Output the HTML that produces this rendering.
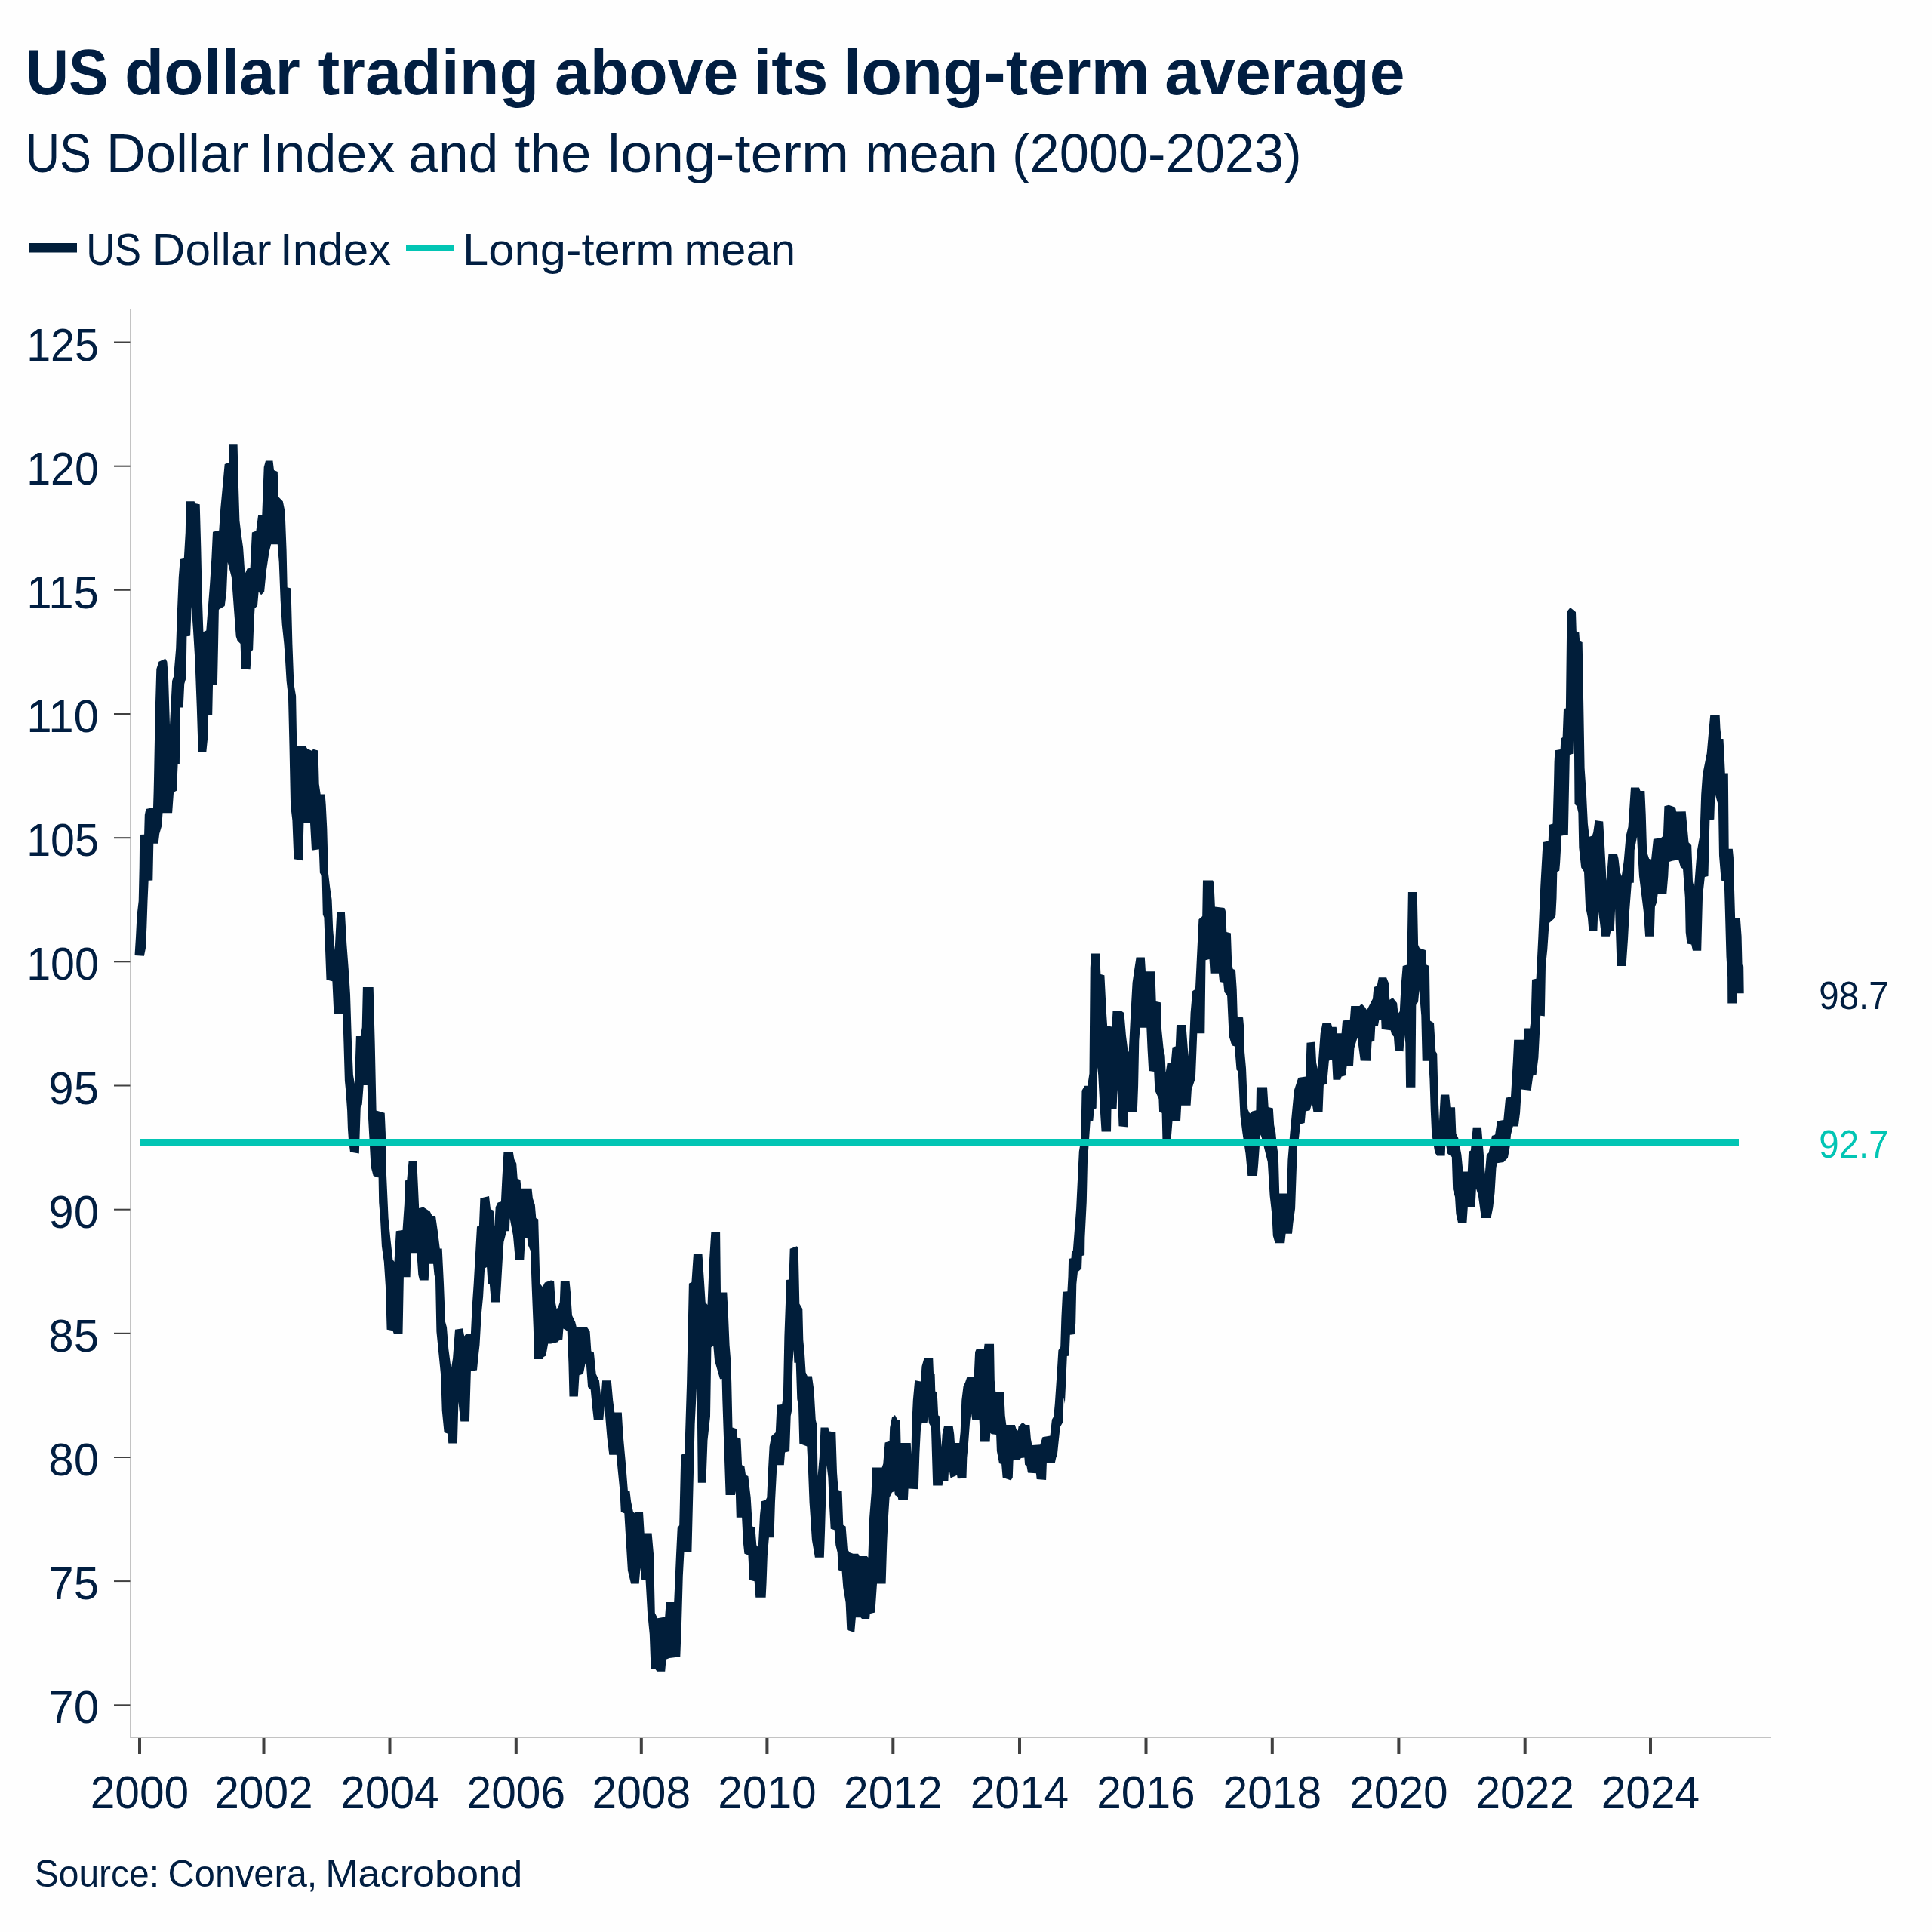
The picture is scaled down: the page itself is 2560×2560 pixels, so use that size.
<!DOCTYPE html>
<html><head><meta charset="utf-8">
<style>
html,body{margin:0;padding:0;background:#fefefe;}
body{width:2560px;height:2560px;overflow:hidden;}
svg{display:block;}
text{font-family:"Liberation Sans", sans-serif;fill:#011e41;}
</style></head><body>
<svg width="2560" height="2560" viewBox="0 0 2560 2560">
<rect x="0" y="0" width="2560" height="2560" fill="#fefefe"/>
<text x="34.29" y="125.20000000000002" font-size="85.25" textLength="109.18" lengthAdjust="spacingAndGlyphs" font-weight="bold">US</text>
<text x="165.09" y="125.20000000000002" font-size="85.25" textLength="232.72" lengthAdjust="spacingAndGlyphs" font-weight="bold">dollar</text>
<text x="421.49" y="125.20000000000002" font-size="85.25" textLength="292.78" lengthAdjust="spacingAndGlyphs" font-weight="bold">trading</text>
<text x="735.04" y="125.20000000000002" font-size="85.25" textLength="243.31" lengthAdjust="spacingAndGlyphs" font-weight="bold">above</text>
<text x="998.64" y="125.20000000000002" font-size="85.25" textLength="98.84" lengthAdjust="spacingAndGlyphs" font-weight="bold">its</text>
<text x="1116.78" y="125.20000000000002" font-size="85.25" textLength="407.38" lengthAdjust="spacingAndGlyphs" font-weight="bold">long-term</text>
<text x="1543.24" y="125.20000000000002" font-size="85.25" textLength="318.33" lengthAdjust="spacingAndGlyphs" font-weight="bold">average</text>
<text x="33.66" y="227.80000000000007" font-size="72.07" textLength="87.46" lengthAdjust="spacingAndGlyphs">US</text>
<text x="140.79" y="227.80000000000007" font-size="72.07" textLength="188.53" lengthAdjust="spacingAndGlyphs">Dollar</text>
<text x="343.36" y="227.80000000000007" font-size="72.07" textLength="179.86" lengthAdjust="spacingAndGlyphs">Index</text>
<text x="541.33" y="227.80000000000007" font-size="72.07" textLength="118.96" lengthAdjust="spacingAndGlyphs">and</text>
<text x="682.39" y="227.80000000000007" font-size="72.07" textLength="101.13" lengthAdjust="spacingAndGlyphs">the</text>
<text x="805.14" y="227.80000000000007" font-size="72.07" textLength="319.95" lengthAdjust="spacingAndGlyphs">long-term</text>
<text x="1146.33" y="227.80000000000007" font-size="72.07" textLength="175.42" lengthAdjust="spacingAndGlyphs">mean</text>
<text x="1341.09" y="227.80000000000007" font-size="72.07" textLength="383.53" lengthAdjust="spacingAndGlyphs">(2000-2023)</text>
<text x="114.15" y="350.60000000000014" font-size="59.01" textLength="73.0" lengthAdjust="spacingAndGlyphs">US</text>
<text x="201.88" y="350.60000000000014" font-size="59.01" textLength="157.75" lengthAdjust="spacingAndGlyphs">Dollar</text>
<text x="371.11" y="350.60000000000014" font-size="59.01" textLength="147.06" lengthAdjust="spacingAndGlyphs">Index</text>
<text x="613.09" y="350.60000000000014" font-size="59.01" textLength="280.39" lengthAdjust="spacingAndGlyphs">Long-term</text>
<text x="906.4" y="350.60000000000014" font-size="59.01" textLength="147.7" lengthAdjust="spacingAndGlyphs">mean</text>
<text x="45.74" y="2499.800000000001" font-size="50.29" textLength="165.36" lengthAdjust="spacingAndGlyphs">Source:</text>
<text x="222.59" y="2499.800000000001" font-size="50.29" textLength="197.79" lengthAdjust="spacingAndGlyphs">Convera,</text>
<text x="431.15" y="2499.800000000001" font-size="50.29" textLength="261.05" lengthAdjust="spacingAndGlyphs">Macrobond</text>
<rect x="38" y="322" width="64" height="12.5" fill="#011e3a"/>
<rect x="538" y="324" width="64" height="9" fill="#02c5b4"/>
<rect x="172" y="410" width="2" height="1893" fill="#c3c3c3"/>
<rect x="172" y="2301" width="2175" height="2" fill="#c3c3c3"/>
<rect x="151" y="2258.3" width="21.5" height="2" fill="#404040"/>
<text x="131" y="2283.3" font-size="61.6" text-anchor="end" textLength="66.7" lengthAdjust="spacingAndGlyphs">70</text>
<rect x="151" y="2094.1" width="21.5" height="2" fill="#404040"/>
<text x="131" y="2119.1" font-size="61.6" text-anchor="end" textLength="66.7" lengthAdjust="spacingAndGlyphs">75</text>
<rect x="151" y="1930.0" width="21.5" height="2" fill="#404040"/>
<text x="131" y="1955.0" font-size="61.6" text-anchor="end" textLength="66.7" lengthAdjust="spacingAndGlyphs">80</text>
<rect x="151" y="1765.8" width="21.5" height="2" fill="#404040"/>
<text x="131" y="1790.8" font-size="61.6" text-anchor="end" textLength="66.7" lengthAdjust="spacingAndGlyphs">85</text>
<rect x="151" y="1601.7" width="21.5" height="2" fill="#404040"/>
<text x="131" y="1626.7" font-size="61.6" text-anchor="end" textLength="66.7" lengthAdjust="spacingAndGlyphs">90</text>
<rect x="151" y="1437.5" width="21.5" height="2" fill="#404040"/>
<text x="131" y="1462.5" font-size="61.6" text-anchor="end" textLength="66.7" lengthAdjust="spacingAndGlyphs">95</text>
<rect x="151" y="1273.3" width="21.5" height="2" fill="#404040"/>
<text x="131" y="1298.3" font-size="61.6" text-anchor="end" textLength="95.8" lengthAdjust="spacingAndGlyphs">100</text>
<rect x="151" y="1109.2" width="21.5" height="2" fill="#404040"/>
<text x="131" y="1134.2" font-size="61.6" text-anchor="end" textLength="95.8" lengthAdjust="spacingAndGlyphs">105</text>
<rect x="151" y="945.0" width="21.5" height="2" fill="#404040"/>
<text x="131" y="970.0" font-size="61.6" text-anchor="end" textLength="95.8" lengthAdjust="spacingAndGlyphs">110</text>
<rect x="151" y="780.8" width="21.5" height="2" fill="#404040"/>
<text x="131" y="805.8" font-size="61.6" text-anchor="end" textLength="95.8" lengthAdjust="spacingAndGlyphs">115</text>
<rect x="151" y="616.7" width="21.5" height="2" fill="#404040"/>
<text x="131" y="641.7" font-size="61.6" text-anchor="end" textLength="95.8" lengthAdjust="spacingAndGlyphs">120</text>
<rect x="151" y="452.5" width="21.5" height="2" fill="#404040"/>
<text x="131" y="477.5" font-size="61.6" text-anchor="end" textLength="95.8" lengthAdjust="spacingAndGlyphs">125</text>
<rect x="183.0" y="2303" width="4" height="21" fill="#404040"/>
<text x="185.0" y="2396" font-size="60.8" text-anchor="middle" textLength="130.5" lengthAdjust="spacingAndGlyphs">2000</text>
<rect x="347.5" y="2303" width="4" height="21" fill="#404040"/>
<text x="349.5" y="2396" font-size="60.8" text-anchor="middle" textLength="130.5" lengthAdjust="spacingAndGlyphs">2002</text>
<rect x="514.5" y="2303" width="4" height="21" fill="#404040"/>
<text x="516.5" y="2396" font-size="60.8" text-anchor="middle" textLength="130.5" lengthAdjust="spacingAndGlyphs">2004</text>
<rect x="681.8" y="2303" width="4" height="21" fill="#404040"/>
<text x="683.8" y="2396" font-size="60.8" text-anchor="middle" textLength="130.5" lengthAdjust="spacingAndGlyphs">2006</text>
<rect x="847.8" y="2303" width="4" height="21" fill="#404040"/>
<text x="849.8" y="2396" font-size="60.8" text-anchor="middle" textLength="130.5" lengthAdjust="spacingAndGlyphs">2008</text>
<rect x="1014.4" y="2303" width="4" height="21" fill="#404040"/>
<text x="1016.4" y="2396" font-size="60.8" text-anchor="middle" textLength="130.5" lengthAdjust="spacingAndGlyphs">2010</text>
<rect x="1181.3" y="2303" width="4" height="21" fill="#404040"/>
<text x="1183.3" y="2396" font-size="60.8" text-anchor="middle" textLength="130.5" lengthAdjust="spacingAndGlyphs">2012</text>
<rect x="1349.0" y="2303" width="4" height="21" fill="#404040"/>
<text x="1351.0" y="2396" font-size="60.8" text-anchor="middle" textLength="130.5" lengthAdjust="spacingAndGlyphs">2014</text>
<rect x="1516.5" y="2303" width="4" height="21" fill="#404040"/>
<text x="1518.5" y="2396" font-size="60.8" text-anchor="middle" textLength="130.5" lengthAdjust="spacingAndGlyphs">2016</text>
<rect x="1683.8" y="2303" width="4" height="21" fill="#404040"/>
<text x="1685.8" y="2396" font-size="60.8" text-anchor="middle" textLength="130.5" lengthAdjust="spacingAndGlyphs">2018</text>
<rect x="1851.4" y="2303" width="4" height="21" fill="#404040"/>
<text x="1853.4" y="2396" font-size="60.8" text-anchor="middle" textLength="130.5" lengthAdjust="spacingAndGlyphs">2020</text>
<rect x="2018.7" y="2303" width="4" height="21" fill="#404040"/>
<text x="2020.7" y="2396" font-size="60.8" text-anchor="middle" textLength="130.5" lengthAdjust="spacingAndGlyphs">2022</text>
<rect x="2185.0" y="2303" width="4" height="21" fill="#404040"/>
<text x="2187.0" y="2396" font-size="60.8" text-anchor="middle" textLength="130.5" lengthAdjust="spacingAndGlyphs">2024</text>
<text x="2410.35" y="1337.0999999999995" font-size="51.23" textLength="92.3" lengthAdjust="spacingAndGlyphs" >98.7</text>
<text x="2410.35" y="1533.5" font-size="51.23" textLength="92.3" lengthAdjust="spacingAndGlyphs" style="fill:#02c5b4">92.7</text>
<path d="M178.5,1266.1 L180.0,1241.9 L181.5,1212.7 L183.7,1194.1 L184.7,1149.4 L185.2,1105.9 L191.1,1105.7 L191.8,1079.8 L193.4,1072.1 L203.0,1069.9 L203.6,1050.0 L204.1,1028.1 L205.7,941.6 L207.3,886.5 L210.4,876.7 L219.1,872.7 L221.4,876.7 L223.0,898.3 L225.0,961.2 L228.1,902.2 L230.1,896.3 L233.2,859.0 L234.8,811.8 L236.8,764.6 L238.7,741.0 L243.8,739.8 L245.8,705.5 L246.6,664.2 L257.6,664.2 L258.4,667.0 L264.7,668.2 L266.3,725.2 L267.8,792.1 L269.4,837.3 L273.3,835.4 L278.1,774.4 L280.4,739.0 L282.0,704.8 L290.3,702.8 L292.2,674.1 L294.6,648.5 L297.7,615.1 L303.2,613.1 L304.0,588.3 L314.6,588.3 L315.8,638.7 L317.4,689.8 L319.8,709.5 L322.1,725.2 L324.5,760.6 L327.6,753.5 L331.6,752.8 L333.9,705.5 L339.4,703.6 L342.2,681.9 L347.3,681.9 L349.7,619.0 L352.0,610.4 L361.5,610.4 L363.0,622.9 L367.8,624.9 L368.9,658.3 L374.8,664.2 L377.6,678.0 L379.6,729.2 L380.7,778.3 L385.5,779.5 L387.4,853.1 L389.4,906.2 L392.1,921.9 L393.3,988.8 L405.1,988.8 L407.1,991.9 L413.0,994.7 L415.0,992.7 L421.5,994.6 L422.7,1038.7 L424.7,1052.4 L430.6,1052.4 L431.7,1066.2 L433.3,1097.7 L434.9,1156.7 L437.3,1176.4 L439.6,1192.1 L441.2,1231.4 L443.6,1259.0 L446.3,1208.6 L456.9,1208.6 L459.3,1251.1 L462.0,1286.5 L464.0,1318.0 L466.0,1380.9 L467.9,1424.2 L469.9,1436.0 L471.9,1373.0 L477.8,1373.0 L479.7,1361.2 L480.9,1308.1 L494.7,1308.1 L496.7,1382.9 L498.6,1471.4 L509.7,1474.8 L510.9,1500.9 L511.7,1550.1 L514.6,1613.9 L517.5,1642.9 L520.4,1669.0 L522.5,1671.9 L524.8,1631.3 L533.5,1629.9 L535.8,1596.5 L537.0,1564.6 L539.3,1563.2 L541.6,1538.6 L552.3,1538.6 L553.8,1570.4 L555.2,1600.9 L561.0,1599.4 L569.7,1605.2 L572.6,1611.0 L577.0,1611.0 L579.9,1631.3 L582.8,1654.5 L585.7,1654.5 L588.0,1700.9 L590.0,1751.6 L592.0,1758.8 L594.3,1787.8 L597.8,1813.9 L600.1,1799.4 L603.0,1761.7 L613.2,1760.3 L615.2,1770.4 L617.5,1767.5 L623.9,1767.5 L625.7,1729.9 L627.7,1700.9 L629.7,1666.1 L632.0,1625.5 L634.9,1624.1 L636.4,1587.8 L648.0,1584.9 L650.0,1602.3 L653.8,1603.8 L655.2,1625.5 L656.7,1599.4 L659.6,1593.6 L663.9,1592.2 L665.4,1561.7 L667.4,1527.0 L679.9,1527.0 L681.3,1535.7 L684.2,1541.4 L685.7,1561.7 L689.4,1563.2 L690.6,1574.8 L704.5,1574.8 L705.9,1587.8 L708.8,1596.5 L710.3,1613.9 L713.2,1615.4 L715.5,1700.9 L719.0,1705.2 L721.9,1699.4 L730.0,1696.5 L734.1,1697.3 L735.8,1725.4 L737.6,1734.2 L739.4,1732.5 L741.8,1725.4 L742.9,1697.3 L754.5,1697.3 L755.9,1711.3 L758.0,1743.0 L762.2,1751.8 L764.0,1758.9 L778.1,1758.9 L781.6,1764.1 L783.4,1790.5 L786.9,1792.3 L789.7,1820.5 L793.9,1829.3 L796.4,1852.1 L798.1,1829.3 L809.8,1829.3 L812.2,1855.7 L814.3,1871.5 L823.8,1871.5 L825.6,1901.4 L829.1,1940.1 L831.9,1975.3 L834.4,1975.3 L836.1,1989.4 L839.0,2003.5 L841.4,2005.2 L842.5,2003.5 L852.0,2003.5 L853.7,2031.6 L863.6,2031.6 L866.1,2059.8 L867.8,2137.2 L871.3,2144.3 L881.2,2142.5 L882.6,2123.1 L893.2,2123.1 L896.0,2059.8 L897.7,2024.6 L900.2,2021.1 L902.3,1927.8 L907.2,1926.0 L910.1,1832.8 L912.9,1700.8 L916.4,1699.0 L918.9,1662.1 L930.5,1662.1 L932.9,1697.3 L934.7,1725.4 L937.5,1728.9 L940.0,1669.1 L942.4,1632.2 L954.1,1632.2 L955.0,1712.6 L963.3,1712.6 L964.9,1742.4 L966.6,1782.2 L968.2,1802.1 L969.2,1831.9 L970.5,1891.5 L975.8,1893.2 L977.2,1904.8 L981.5,1906.4 L983.1,1941.2 L986.4,1942.9 L988.1,1954.5 L991.4,1956.1 L993.1,1971.0 L994.7,1984.3 L997.0,2022.4 L1000.4,2024.0 L1002.3,2047.2 L1004.7,2050.5 L1007.0,2007.5 L1009.0,1989.2 L1014.6,1987.6 L1016.3,1984.3 L1017.9,1947.8 L1019.6,1916.4 L1022.2,1903.1 L1027.8,1898.1 L1029.5,1861.7 L1036.1,1861.0 L1037.8,1851.8 L1039.4,1770.6 L1042.1,1696.1 L1045.4,1695.4 L1046.7,1654.7 L1056.0,1651.3 L1057.7,1654.7 L1059.3,1727.5 L1063.3,1734.2 L1064.3,1775.6 L1065.9,1792.1 L1067.6,1818.6 L1069.9,1823.6 L1075.9,1823.6 L1078.5,1841.8 L1080.8,1881.6 L1082.5,1888.2 L1083.5,1956.1 L1085.8,1931.3 L1087.5,1891.5 L1097.4,1891.5 L1099.1,1896.5 L1107.3,1898.1 L1109.0,1951.1 L1110.7,1974.3 L1115.6,1976.0 L1117.3,2020.7 L1120.6,2022.4 L1122.9,2052.2 L1125.6,2057.1 L1130.5,2058.8 L1137.2,2058.8 L1138.8,2062.1 L1148.8,2062.1 L1150.4,2063.8 L1152.1,2010.8 L1154.7,1977.6 L1156.0,1944.5 L1168.6,1944.5 L1170.3,1939.5 L1172.6,1911.4 L1178.6,1909.7 L1179.2,1891.5 L1181.9,1878.3 L1185.9,1874.9 L1188.5,1879.9 L1189.8,1881.6 L1192.8,1880.9 L1193.5,1912.0 L1206.0,1912.0 L1206.7,1912.0 L1207.5,1926.7 L1208.3,1886.3 L1209.8,1855.3 L1212.2,1828.9 L1219.9,1830.4 L1221.5,1810.2 L1224.6,1799.4 L1236.2,1799.4 L1237.0,1819.6 L1238.6,1821.1 L1239.3,1843.6 L1241.7,1845.2 L1243.2,1875.5 L1244.8,1876.2 L1245.6,1887.9 L1247.6,1917.4 L1248.7,1900.3 L1251.0,1889.4 L1262.6,1889.4 L1264.2,1900.3 L1265.0,1912.0 L1271.2,1912.0 L1272.7,1897.2 L1274.3,1855.3 L1276.6,1836.6 L1278.9,1832.0 L1281.3,1825.0 L1290.6,1824.2 L1292.1,1791.6 L1293.7,1787.7 L1303.8,1787.7 L1304.6,1780.7 L1317.0,1780.7 L1317.8,1828.9 L1319.3,1844.4 L1330.2,1844.4 L1331.7,1875.5 L1333.3,1887.9 L1344.9,1887.9 L1346.5,1893.3 L1348.8,1895.7 L1349.6,1890.2 L1355.0,1884.8 L1358.9,1887.9 L1364.3,1887.9 L1365.9,1906.5 L1367.5,1915.1 L1378.3,1914.3 L1381.4,1904.2 L1391.5,1902.6 L1393.9,1880.9 L1396.2,1877.0 L1397.8,1860.0 L1399.6,1833.6 L1401.3,1807.4 L1402.4,1789.2 L1405.2,1784.6 L1406.4,1745.9 L1408.1,1711.7 L1414.4,1711.2 L1415.5,1691.2 L1416.1,1667.9 L1419.5,1667.3 L1420.1,1658.2 L1421.8,1657.1 L1426.1,1601.5 L1429.8,1525.7 L1432.3,1510.8 L1433.5,1445.0 L1437.3,1438.8 L1441.0,1438.8 L1443.5,1422.6 L1444.7,1282.2 L1446.0,1263.6 L1457.1,1263.6 L1458.4,1290.9 L1463.4,1292.2 L1465.8,1339.4 L1467.1,1359.3 L1473.3,1360.5 L1474.5,1339.4 L1485.7,1339.4 L1489.4,1341.9 L1491.9,1371.7 L1494.4,1391.6 L1495.7,1394.0 L1498.1,1346.8 L1500.6,1302.1 L1503.1,1284.7 L1505.6,1268.6 L1516.8,1268.6 L1518.0,1287.2 L1530.4,1287.2 L1531.7,1327.0 L1537.9,1328.2 L1539.1,1364.2 L1541.6,1389.1 L1543.6,1399.0 L1544.6,1421.4 L1546.6,1408.9 L1551.6,1408.9 L1553.5,1387.8 L1557.8,1386.6 L1559.0,1358.0 L1571.4,1358.0 L1573.9,1390.3 L1575.2,1401.5 L1577.6,1341.9 L1580.1,1313.3 L1583.9,1310.8 L1587.6,1235.0 L1588.4,1218.3 L1593.2,1214.1 L1594.0,1166.6 L1607.1,1166.6 L1608.5,1170.7 L1609.9,1201.5 L1622.5,1202.9 L1623.9,1207.1 L1625.3,1235.0 L1630.9,1236.4 L1632.3,1277.0 L1633.7,1283.9 L1637.0,1285.3 L1638.7,1310.5 L1639.8,1346.8 L1647.1,1348.2 L1648.2,1360.8 L1649.1,1394.3 L1651.0,1415.3 L1653.3,1469.8 L1656.1,1475.4 L1659.4,1472.6 L1664.4,1471.2 L1665.0,1440.5 L1679.0,1440.5 L1680.7,1467.0 L1686.8,1468.4 L1688.2,1490.8 L1690.2,1500.6 L1691.8,1517.3 L1693.8,1531.3 L1695.2,1581.6 L1705.0,1581.6 L1706.4,1536.9 L1709.2,1503.4 L1714.8,1444.7 L1720.3,1427.9 L1730.1,1426.5 L1731.5,1381.8 L1742.7,1380.4 L1744.1,1408.3 L1746.1,1416.7 L1749.7,1369.2 L1752.5,1355.2 L1763.7,1355.2 L1765.1,1360.8 L1770.7,1360.8 L1772.0,1369.2 L1777.6,1369.2 L1779.0,1352.4 L1788.8,1351.0 L1790.2,1332.9 L1801.4,1332.9 L1804.2,1330.1 L1808.4,1334.3 L1811.2,1338.4 L1819.0,1323.3 L1820.4,1307.9 L1824.6,1306.5 L1826.8,1295.3 L1837.1,1295.3 L1839.9,1302.3 L1841.3,1324.7 L1845.5,1321.9 L1851.1,1328.9 L1852.5,1342.9 L1854.8,1340.1 L1856.7,1303.7 L1858.7,1280.0 L1864.3,1278.6 L1865.9,1182.1 L1877.7,1182.1 L1879.1,1252.0 L1881.0,1256.2 L1888.9,1259.0 L1890.2,1278.6 L1893.9,1280.0 L1895.0,1352.6 L1900.0,1355.4 L1902.3,1393.2 L1904.2,1396.0 L1905.6,1451.9 L1907.0,1485.4 L1909.0,1450.5 L1920.2,1450.5 L1921.8,1467.2 L1928.0,1467.2 L1929.4,1502.2 L1932.2,1507.8 L1936.4,1530.1 L1938.6,1552.5 L1944.8,1552.5 L1946.1,1525.9 L1948.9,1524.5 L1951.7,1493.8 L1962.9,1493.8 L1965.7,1527.3 L1967.7,1555.3 L1969.9,1530.1 L1972.7,1527.3 L1976.9,1505.0 L1981.1,1503.6 L1983.9,1485.4 L1992.3,1484.0 L1995.1,1454.7 L2002.0,1453.3 L2004.8,1407.1 L2006.2,1377.8 L2018.8,1377.8 L2020.2,1362.4 L2027.2,1362.4 L2028.6,1351.2 L2030.0,1298.1 L2035.6,1296.7 L2038.4,1240.8 L2041.2,1175.2 L2044.5,1116.1 L2051.7,1114.6 L2052.6,1092.9 L2057.5,1091.4 L2059.0,1039.3 L2059.6,1010.3 L2060.4,994.3 L2067.7,992.9 L2068.3,978.4 L2070.6,977.0 L2072.0,939.3 L2074.9,938.4 L2076.4,810.3 L2080.7,805.1 L2088.0,810.9 L2088.8,836.4 L2092.3,837.8 L2093.2,849.4 L2096.7,850.9 L2098.1,929.1 L2099.6,1017.5 L2101.9,1050.9 L2103.9,1091.4 L2105.9,1108.8 L2109.7,1107.4 L2111.2,1103.0 L2113.5,1087.1 L2124.2,1088.6 L2126.2,1123.3 L2128.6,1166.8 L2131.4,1132.0 L2143.0,1132.0 L2144.5,1137.8 L2146.5,1155.2 L2148.8,1161.0 L2151.7,1140.7 L2154.6,1107.4 L2157.5,1095.8 L2161.0,1043.6 L2172.0,1043.6 L2173.5,1048.0 L2179.3,1048.0 L2180.7,1078.4 L2182.2,1129.1 L2185.1,1137.8 L2188.0,1139.3 L2190.9,1111.7 L2201.0,1110.3 L2203.9,1107.4 L2205.4,1068.3 L2211.2,1066.8 L2219.9,1069.7 L2221.3,1075.5 L2233.7,1075.3 L2236.5,1105.2 L2237.5,1116.3 L2241.2,1120.1 L2243.0,1168.5 L2244.9,1176.0 L2248.6,1128.4 L2252.4,1107.0 L2254.2,1053.0 L2256.1,1026.0 L2261.7,998.0 L2264.5,966.3 L2266.3,947.1 L2278.6,947.2 L2279.5,965.6 L2280.9,979.0 L2283.5,979.0 L2284.7,1001.2 L2285.8,1024.6 L2289.8,1024.6 L2290.7,1124.8 L2295.8,1124.8 L2296.9,1135.9 L2298.0,1178.2 L2299.1,1216.0 L2305.8,1216.0 L2307.6,1240.5 L2308.5,1278.3 L2310.2,1280.6 L2310.7,1316.2 L2310.7,1316.2 L2301.6,1316.2 L2301.3,1329.5 L2289.3,1329.5 L2289.1,1293.9 L2287.5,1267.2 L2285.8,1204.9 L2284.7,1168.2 L2281.3,1167.0 L2280.2,1160.4 L2278.0,1133.7 L2276.9,1066.9 L2274.2,1058.0 L2272.4,1051.3 L2271.3,1085.8 L2266.0,1086.5 L2265.4,1086.5 L2263.5,1161.1 L2258.9,1162.0 L2256.1,1187.1 L2254.2,1259.8 L2243.0,1259.8 L2241.2,1251.4 L2235.6,1250.5 L2233.7,1235.6 L2232.8,1189.0 L2230.0,1150.9 L2227.1,1149.4 L2224.2,1139.3 L2215.5,1140.7 L2211.2,1142.2 L2210.3,1161.0 L2208.3,1184.2 L2196.7,1184.2 L2195.2,1195.8 L2192.9,1201.6 L2191.7,1240.7 L2180.1,1240.7 L2177.8,1207.4 L2174.9,1184.2 L2172.0,1161.0 L2170.6,1137.8 L2169.1,1108.8 L2165.7,1126.2 L2164.8,1169.7 L2161.9,1169.7 L2159.0,1207.4 L2157.0,1245.1 L2154.6,1279.9 L2142.5,1279.9 L2140.1,1204.5 L2138.7,1233.5 L2134.3,1233.5 L2132.9,1240.7 L2122.2,1240.7 L2119.9,1221.9 L2117.5,1204.5 L2116.4,1233.5 L2105.4,1233.5 L2103.9,1216.1 L2101.0,1201.6 L2099.0,1155.2 L2095.2,1149.4 L2092.3,1123.3 L2091.4,1077.0 L2089.4,1068.3 L2086.5,1065.4 L2085.7,956.7 L2084.5,998.7 L2079.9,1000.1 L2078.7,1059.6 L2077.8,1105.9 L2069.1,1107.4 L2067.1,1143.6 L2066.2,1153.8 L2063.3,1155.2 L2062.5,1190.0 L2061.3,1213.2 L2059.0,1217.5 L2052.6,1223.3 L2050.3,1258.1 L2048.0,1279.9 L2046.8,1346.5 L2041.2,1345.7 L2038.4,1401.6 L2035.6,1423.9 L2031.4,1425.3 L2028.6,1444.9 L2016.0,1443.5 L2014.1,1474.2 L2011.8,1492.4 L2004.8,1492.4 L2002.0,1503.6 L2000.7,1518.9 L1997.9,1534.3 L1992.3,1539.9 L1983.9,1541.3 L1982.5,1546.9 L1980.5,1580.4 L1978.3,1600.0 L1975.5,1614.0 L1962.9,1614.0 L1958.7,1583.2 L1955.9,1574.8 L1954.5,1600.0 L1944.8,1600.0 L1943.4,1621.0 L1932.2,1621.0 L1929.4,1608.4 L1928.0,1586.0 L1925.2,1576.2 L1923.8,1532.9 L1918.2,1528.7 L1915.4,1513.4 L1914.6,1531.5 L1904.2,1531.5 L1901.4,1527.3 L1897.2,1502.2 L1895.8,1471.4 L1894.4,1429.5 L1893.0,1405.7 L1884.7,1405.7 L1883.3,1345.7 L1880.5,1312.1 L1879.1,1327.5 L1876.3,1331.7 L1875.4,1440.7 L1863.1,1440.7 L1862.3,1382.0 L1860.9,1370.8 L1859.5,1393.2 L1848.3,1391.8 L1846.9,1373.6 L1844.1,1370.8 L1842.7,1365.2 L1830.7,1363.8 L1830.2,1351.2 L1827.4,1351.2 L1826.0,1359.1 L1822.3,1359.6 L1821.2,1379.2 L1817.6,1380.6 L1816.2,1405.7 L1802.8,1405.5 L1798.6,1374.8 L1794.4,1388.8 L1793.0,1412.5 L1784.6,1412.5 L1783.2,1425.1 L1777.6,1426.5 L1776.2,1430.7 L1766.5,1430.7 L1765.1,1404.1 L1760.9,1405.5 L1758.1,1436.3 L1753.9,1437.7 L1752.5,1474.0 L1740.5,1474.0 L1738.5,1461.4 L1735.7,1471.2 L1730.1,1472.6 L1728.7,1488.0 L1723.1,1489.4 L1720.3,1514.5 L1718.9,1520.1 L1716.1,1601.2 L1713.4,1620.7 L1712.0,1634.7 L1703.6,1634.7 L1702.2,1647.3 L1689.6,1647.3 L1686.8,1637.5 L1685.4,1609.6 L1682.6,1584.4 L1679.8,1539.7 L1671.4,1506.1 L1670.0,1503.4 L1667.2,1542.5 L1665.8,1557.9 L1653.3,1557.9 L1650.5,1528.5 L1646.3,1500.6 L1643.5,1478.2 L1640.7,1419.5 L1640.0,1418.9 L1638.5,1417.6 L1636.0,1386.6 L1632.3,1385.3 L1628.6,1372.9 L1626.1,1319.5 L1622.4,1314.5 L1621.1,1302.1 L1616.1,1300.9 L1614.9,1289.7 L1603.7,1289.7 L1602.5,1271.1 L1597.5,1272.3 L1596.3,1369.2 L1586.3,1369.2 L1583.9,1428.8 L1578.9,1443.7 L1577.6,1464.8 L1565.2,1464.8 L1564.0,1486.0 L1553.5,1486.0 L1551.6,1509.6 L1540.4,1509.6 L1539.6,1474.8 L1536.1,1473.5 L1535.4,1456.1 L1530.4,1445.0 L1529.2,1420.1 L1522.2,1418.9 L1520.5,1389.1 L1519.3,1361.7 L1510.6,1361.7 L1509.3,1379.1 L1508.1,1438.8 L1506.8,1473.5 L1494.9,1473.5 L1494.4,1493.4 L1482.5,1492.2 L1480.7,1443.7 L1479.5,1469.8 L1472.5,1469.8 L1472.0,1499.6 L1459.6,1499.6 L1457.6,1468.6 L1455.2,1423.9 L1453.7,1411.4 L1452.7,1468.6 L1449.7,1469.8 L1448.4,1484.7 L1444.7,1486.0 L1441.0,1539.4 L1439.8,1592.8 L1437.4,1640.0 L1437.1,1663.3 L1433.7,1663.9 L1433.1,1681.0 L1428.0,1685.5 L1426.3,1701.5 L1425.2,1753.3 L1424.0,1768.1 L1417.8,1768.7 L1416.6,1796.6 L1413.8,1797.1 L1412.7,1822.2 L1410.9,1860.0 L1409.4,1851.4 L1408.6,1884.0 L1404.7,1891.0 L1402.4,1912.7 L1400.8,1928.3 L1399.3,1931.4 L1397.7,1939.1 L1386.9,1938.4 L1386.1,1960.9 L1373.7,1960.1 L1372.9,1952.3 L1362.0,1951.6 L1360.5,1943.0 L1358.1,1940.7 L1357.4,1931.4 L1352.7,1932.1 L1351.9,1933.7 L1342.6,1935.2 L1341.8,1957.8 L1339.5,1961.6 L1328.6,1957.8 L1327.1,1939.9 L1324.0,1939.1 L1320.9,1922.8 L1320.1,1901.1 L1313.9,1900.3 L1312.3,1898.8 L1311.6,1910.4 L1299.1,1910.4 L1297.6,1881.7 L1288.3,1881.7 L1286.7,1870.8 L1285.2,1883.2 L1282.8,1915.8 L1281.3,1931.4 L1280.5,1958.5 L1268.9,1959.3 L1268.1,1954.7 L1259.5,1958.5 L1257.2,1945.3 L1256.4,1962.4 L1249.4,1962.4 L1248.7,1968.6 L1236.2,1968.6 L1233.9,1891.0 L1230.8,1885.6 L1230.0,1877.0 L1228.5,1885.6 L1221.5,1885.6 L1219.9,1895.7 L1218.4,1925.2 L1216.8,1973.3 L1203.6,1972.5 L1202.9,1987.3 L1190.4,1987.3 L1189.8,1984.3 L1188.5,1982.6 L1185.9,1981.0 L1185.2,1976.0 L1181.9,1977.6 L1178.6,1984.3 L1176.9,2010.8 L1175.3,2043.9 L1173.6,2098.6 L1162.0,2098.6 L1159.4,2136.6 L1152.7,2138.3 L1152.1,2144.9 L1142.1,2144.9 L1140.5,2143.3 L1133.9,2143.3 L1132.2,2163.1 L1122.3,2159.8 L1120.6,2123.4 L1117.3,2103.5 L1115.6,2082.0 L1110.7,2080.3 L1109.7,2057.1 L1107.3,2047.2 L1105.7,2027.3 L1100.7,2025.7 L1099.1,1997.5 L1097.4,1957.8 L1095.4,1941.2 L1094.4,1981.0 L1093.1,2027.3 L1091.8,2063.8 L1079.9,2063.8 L1075.9,2040.6 L1074.2,2014.1 L1072.6,1990.9 L1070.9,1947.8 L1069.3,1916.4 L1059.3,1912.7 L1058.0,1863.4 L1056.3,1853.7 L1054.7,1805.7 L1052.4,1805.7 L1051.7,1788.8 L1050.4,1805.4 L1049.0,1870.0 L1047.7,1876.3 L1046.1,1923.0 L1040.1,1924.6 L1038.8,1941.2 L1029.5,1941.2 L1026.9,1990.9 L1025.5,2037.3 L1018.9,2037.3 L1016.9,2060.5 L1015.6,2096.9 L1014.6,2116.8 L1001.3,2116.8 L999.7,2095.2 L993.1,2093.6 L991.4,2060.5 L986.4,2058.8 L984.8,2043.9 L983.1,2010.8 L975.8,2010.8 L974.8,1976.0 L973.9,1981.0 L961.6,1981.0 L959.9,1931.3 L957.3,1855.1 L956.6,1826.9 L955.0,1826.9 L954.1,1827.5 L947.0,1802.9 L945.3,1783.5 L942.4,1785.3 L941.0,1876.8 L937.5,1908.4 L935.4,1964.8 L924.8,1964.8 L923.4,1831.0 L920.6,1887.3 L917.8,2000.0 L916.4,2056.3 L906.5,2056.3 L904.8,2088.0 L903.0,2151.3 L901.3,2195.3 L887.2,2197.1 L882.6,2198.8 L881.2,2214.7 L870.6,2214.7 L867.8,2211.1 L862.5,2211.1 L860.8,2165.4 L858.0,2137.2 L855.5,2093.2 L850.2,2093.2 L848.5,2077.4 L846.7,2098.5 L836.1,2098.5 L831.9,2080.9 L829.1,2035.2 L827.3,2005.2 L822.8,2003.5 L821.4,1975.3 L818.6,1947.2 L816.8,1927.8 L807.3,1927.8 L804.5,1904.9 L802.7,1883.8 L801.0,1862.7 L799.2,1882.0 L786.9,1882.0 L785.1,1866.2 L782.7,1841.6 L779.1,1838.1 L777.0,1809.9 L775.6,1806.4 L772.8,1820.5 L767.5,1822.2 L765.8,1850.4 L754.5,1850.4 L753.4,1806.4 L751.7,1764.1 L749.9,1762.4 L746.4,1760.6 L745.3,1774.7 L740.4,1776.5 L739.4,1778.2 L730.0,1780.6 L726.2,1780.6 L723.3,1796.5 L720.4,1798.0 L719.0,1800.9 L708.0,1800.9 L706.8,1758.8 L704.5,1700.9 L703.0,1657.4 L699.3,1648.7 L698.7,1640.0 L695.8,1640.0 L694.3,1669.0 L682.8,1669.0 L679.9,1637.1 L675.5,1613.9 L674.9,1631.3 L671.2,1631.3 L667.4,1645.8 L666.2,1663.2 L663.9,1703.8 L662.5,1725.5 L650.9,1725.5 L648.8,1700.9 L646.5,1700.9 L645.1,1679.1 L642.2,1680.6 L640.1,1718.3 L637.8,1741.4 L635.5,1782.0 L633.5,1799.4 L632.0,1815.4 L623.9,1816.8 L621.9,1883.5 L610.3,1883.5 L607.4,1857.4 L605.9,1912.5 L594.3,1912.5 L592.9,1899.4 L588.6,1898.0 L585.7,1869.0 L584.2,1822.6 L581.3,1793.6 L578.4,1764.6 L577.0,1695.1 L575.5,1689.3 L574.1,1674.8 L568.8,1674.8 L567.7,1696.5 L556.1,1696.5 L554.3,1689.3 L552.3,1660.3 L544.5,1660.3 L543.6,1692.2 L534.9,1692.2 L534.1,1735.7 L533.5,1767.5 L521.9,1767.5 L520.4,1763.2 L512.6,1761.7 L510.9,1703.8 L508.8,1671.9 L505.9,1651.6 L503.9,1613.9 L502.2,1593.6 L501.6,1560.3 L499.4,1559.9 L494.7,1557.9 L491.5,1546.1 L489.6,1510.7 L487.6,1475.3 L486.8,1438.0 L481.7,1438.0 L479.7,1463.5 L477.8,1467.5 L475.8,1528.4 L464.0,1526.5 L462.0,1510.7 L460.9,1495.0 L460.1,1471.4 L458.1,1443.9 L456.9,1432.0 L455.4,1380.9 L454.2,1343.5 L442.4,1343.5 L440.4,1300.3 L432.5,1298.3 L429.4,1215.7 L427.8,1211.8 L426.6,1160.6 L423.9,1156.7 L422.7,1125.2 L415.0,1126.5 L413.0,1126.5 L411.0,1091.1 L402.4,1091.1 L401.2,1140.2 L389.4,1138.3 L387.4,1087.1 L385.1,1067.5 L383.5,988.8 L381.9,921.9 L379.6,902.2 L377.6,868.8 L376.4,853.1 L373.7,827.5 L371.7,796.0 L369.7,744.9 L367.8,721.3 L359.1,721.3 L356.7,731.1 L352.8,756.7 L350.1,784.2 L346.1,788.2 L342.6,784.2 L341.0,803.1 L337.5,805.9 L336.3,827.5 L335.1,860.9 L333.1,862.9 L331.6,887.3 L319.8,886.5 L318.6,853.1 L314.6,849.1 L312.7,843.2 L306.8,764.6 L301.7,744.9 L300.1,784.2 L297.7,803.1 L289.9,807.8 L289.1,851.1 L287.9,908.1 L282.0,908.1 L281.2,947.5 L276.1,947.5 L275.3,977.0 L273.3,996.6 L263.1,996.6 L262.3,984.8 L260.8,937.6 L258.4,874.7 L256.0,835.4 L253.7,803.9 L252.1,842.4 L247.4,843.2 L246.6,898.3 L244.2,906.2 L242.7,937.6 L238.7,937.6 L237.9,1012.4 L235.6,1012.4 L234.0,1047.8 L230.1,1049.8 L228.1,1077.3 L215.5,1077.3 L214.3,1094.2 L211.2,1104.8 L209.6,1117.8 L203.3,1117.7 L202.3,1166.5 L196.7,1166.8 L195.5,1194.1 L194.3,1228.9 L193.0,1256.2 L190.9,1266.8 L178.5,1266.1Z" fill="#011e3a"/>
<rect x="185" y="1509" width="2119" height="9" fill="#02c5b4"/>
</svg>
</body></html>
